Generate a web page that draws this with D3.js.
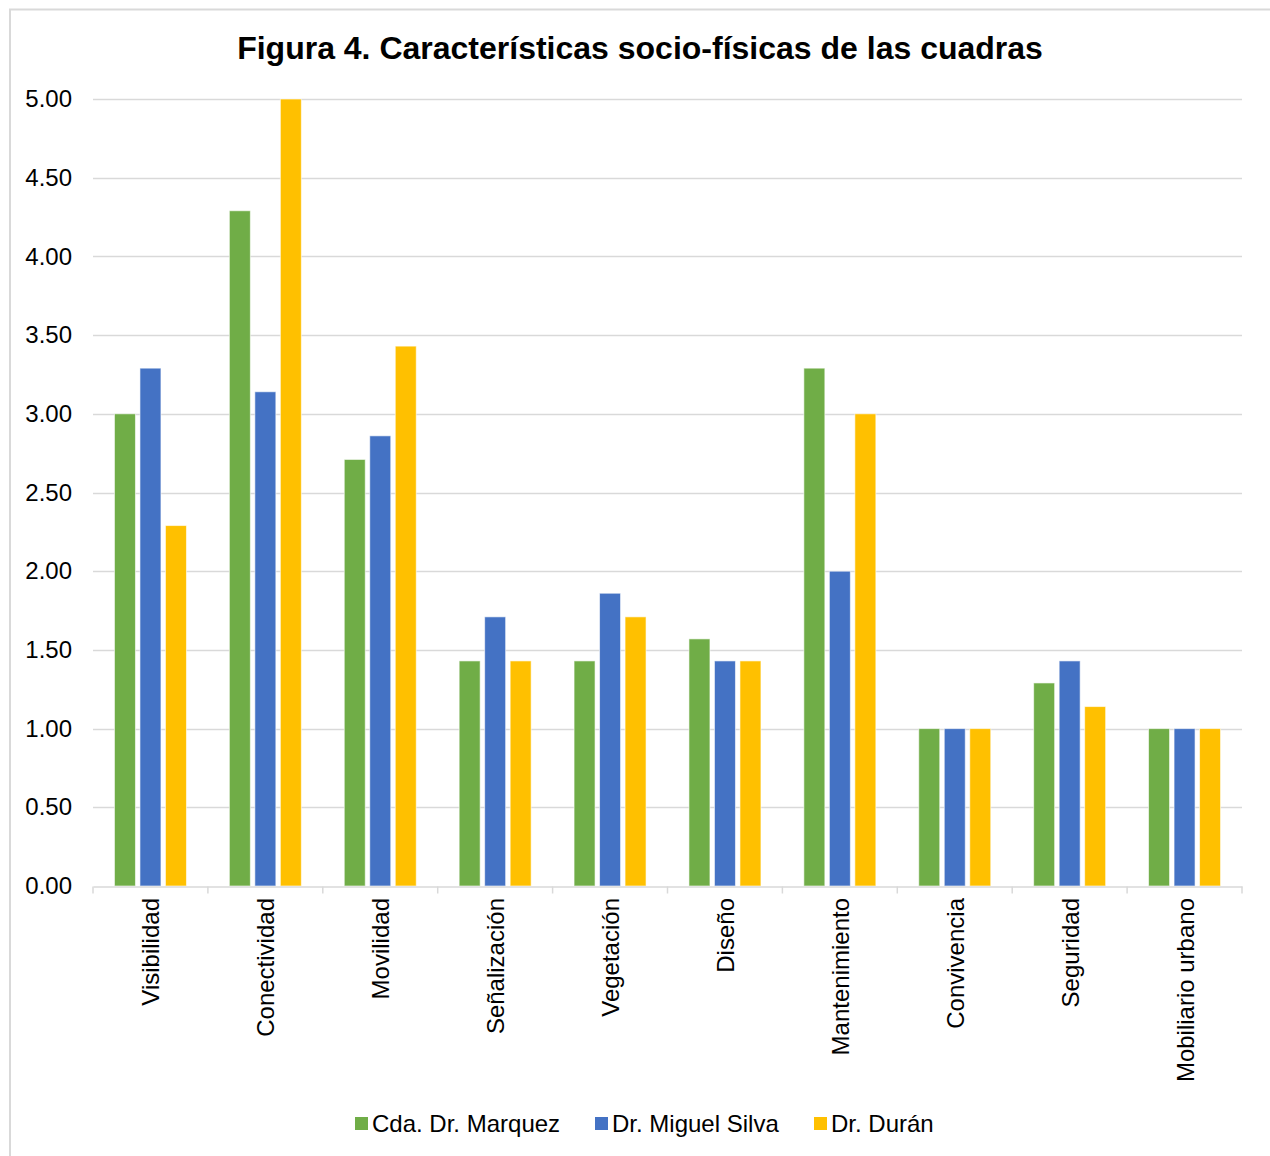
<!DOCTYPE html>
<html>
<head>
<meta charset="utf-8">
<script src="https://cdn.jsdelivr.net/npm/d3@7"></script>
<style>
  html, body { margin: 0; padding: 0; background: #fff; }
  svg { display: block; font-family: "Liberation Sans", Arial, sans-serif; }
</style>
</head>
<body>
<svg id="chart" width="1270" height="1156"></svg>
<script>
// Categories along the x axis
const categories = ["Visibilidad", "Conectividad", "Movilidad", "Señalización", "Vegetación",
  "Diseño", "Mantenimiento", "Convivencia", "Seguridad", "Mobiliario urbano"];

// Series names and values per category
const seriesNames = ["Cda. Dr. Marquez", "Dr. Miguel Silva", "Dr. Durán"];
const marquez = [3.00, 4.29, 2.71, 1.43, 1.43, 1.57, 3.29, 1.00, 1.29, 1.00];
const silva   = [3.29, 3.14, 2.86, 1.71, 1.86, 1.43, 2.00, 1.00, 1.43, 1.00];
const duran   = [2.29, 5.00, 3.43, 1.43, 1.71, 1.43, 3.00, 1.00, 1.14, 1.00];
const seriesColors = ["#70AD47", "#4472C4", "#FFC000"];

// Y axis ticks
const yTicks = [0, 0.5, 1, 1.5, 2, 2.5, 3, 3.5, 4, 4.5, 5];

const seriesValues = [marquez, silva, duran];

const svg = d3.select("#chart");
const W = 1270, H = 1156;
const plot = { left: 93, right: 1242, top: 99, bottom: 886 };

// Outer chart frame (left and top edges visible)
svg.append("path")
  .attr("d", `M10,${H} L10,9.5 L${W},9.5`)
  .attr("fill", "none").attr("stroke", "#d9d9d9").attr("stroke-width", 2);

// Title
svg.append("text")
  .attr("x", 640).attr("y", 59)
  .attr("text-anchor", "middle")
  .attr("font-size", 32).attr("font-weight", "bold").attr("fill", "#000")
  .text("Figura 4. Características socio-físicas de las cuadras");

const x = d3.scaleBand().domain(categories).range([plot.left, plot.right]).paddingInner(0).paddingOuter(0);
const y = d3.scaleLinear().domain([0, 5]).range([plot.bottom, plot.top]);

// Gridlines
svg.append("g").selectAll("line").data(yTicks.filter(d => d > 0)).join("line")
  .attr("x1", plot.left).attr("x2", plot.right)
  .attr("y1", d => Math.round(y(d)) + 0.5).attr("y2", d => Math.round(y(d)) + 0.5)
  .attr("stroke", "#d9d9d9").attr("stroke-width", 1.5);

// Y axis labels
const yAxis = d3.axisLeft(y).tickValues(yTicks).tickFormat(d3.format(".2f")).tickSize(0).tickPadding(21);
const gy = svg.append("g").attr("transform", `translate(${plot.left},0)`).call(yAxis);
gy.select(".domain").remove();
gy.selectAll("text").attr("font-size", 24).attr("fill", "#000")
  .attr("font-family", "'Liberation Sans', Arial, sans-serif");

// Bars
const barW = 21, step = 25.5;
seriesValues.forEach((vals, si) => {
  svg.append("g").selectAll("rect").data(vals).join("rect")
    .attr("x", (d, i) => x(categories[i]) + x.bandwidth() / 2 + (si - 1) * step - barW / 2)
    .attr("y", d => y(d))
    .attr("width", barW)
    .attr("height", d => y(0) - y(d))
    .attr("fill", seriesColors[si])
    .attr("stroke", "#fff").attr("stroke-opacity", 0.6).attr("stroke-width", 1);
});

// X axis line with category-boundary ticks
const xAxis = d3.axisBottom(x).tickSize(0).tickFormat("");
const gx = svg.append("g").attr("transform", `translate(0,${plot.bottom + 0.5})`).call(xAxis);
gx.select(".domain").attr("stroke", "#d9d9d9").attr("stroke-width", 1.5);
const boundaries = categories.map(c => x(c)).concat([plot.right]);
gx.selectAll(".bound").data(boundaries).join("line")
  .attr("class", "bound")
  .attr("x1", d => d).attr("x2", d => d).attr("y1", 0).attr("y2", 7)
  .attr("stroke", "#d9d9d9").attr("stroke-width", 1.5);

// Rotated category labels
svg.append("g").selectAll("text").data(categories).join("text")
  .attr("transform", d => `translate(${x(d) + x.bandwidth() / 2 + 9},${plot.bottom + 12}) rotate(-90)`)
  .attr("text-anchor", "end")
  .attr("font-size", 24).attr("fill", "#000")
  .text(d => d);

// Legend
const legendItems = [
  { name: seriesNames[0], color: seriesColors[0], x: 355 },
  { name: seriesNames[1], color: seriesColors[1], x: 595 },
  { name: seriesNames[2], color: seriesColors[2], x: 814 }
];
const lg = svg.append("g");
legendItems.forEach(it => {
  lg.append("rect").attr("x", it.x).attr("y", 1117).attr("width", 13).attr("height", 13).attr("fill", it.color);
  lg.append("text").attr("x", it.x + 17).attr("y", 1132)
    .attr("font-size", 24).attr("fill", "#000").text(it.name);
});
</script>
</body>
</html>
